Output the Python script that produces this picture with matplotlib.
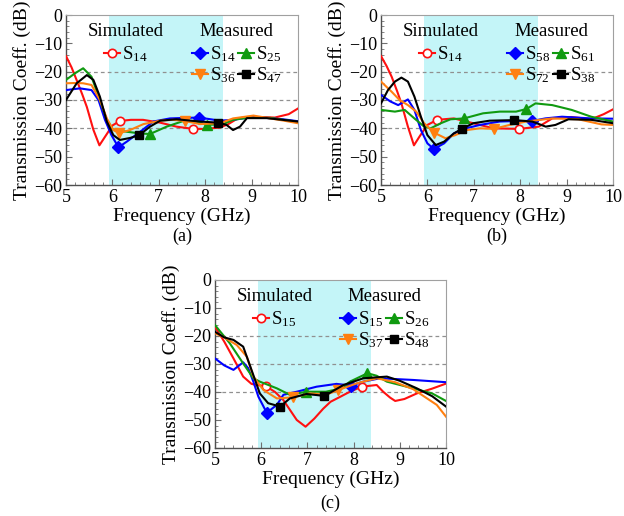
import matplotlib
matplotlib.use('Agg')
import matplotlib.pyplot as plt

plt.rcParams['font.family'] = ['Liberation Serif', 'DejaVu Serif']
plt.rcParams['mathtext.fontset'] = 'custom'
plt.rcParams['mathtext.rm'] = 'Liberation Serif'
plt.rcParams['mathtext.it'] = 'Liberation Serif:italic'
plt.rcParams['mathtext.default'] = 'rm'

# ---------------- data ----------------
band_lo, band_hi = 5.925, 8.375
grid_levels = [-20, -30, -40]
x_ticks = [5, 6, 7, 8, 9, 10]
y_ticks = [0, -10, -20, -30, -40, -50, -60]

# Panel (a)
a_sim_f = [5.0, 5.12, 5.23, 5.35, 5.45, 5.59, 5.72, 5.8, 5.9, 6.0, 6.16, 6.4, 6.66, 7.03, 7.38, 7.74, 8.0, 8.32, 8.5, 8.7, 8.9, 9.2, 9.5, 9.8, 10.0]
a_sim_db = [-14.5, -18.5, -23, -28, -32.5, -40.5, -46, -44, -41.5, -39, -37.4, -37, -37, -38, -39.4, -40.2, -40.2, -39.7, -38.5, -36.5, -36, -36, -36.2, -35, -33]
a_sim_mk = [10, 15]
a_m1_f = [5.0, 5.3, 5.55, 5.7, 5.84, 5.98, 6.13, 6.31, 6.6, 6.88, 7.24, 7.6, 7.87, 8.32, 8.6, 8.97, 9.3, 9.68, 10.0]
a_m1_db = [-26.5, -25.9, -26.5, -30, -37, -42.4, -46.7, -44.7, -41.2, -37.6, -36.5, -36.3, -36.2, -37.3, -37, -36.1, -36.3, -36.8, -37.5]
a_m1_mk = [6, 12]
a_m2_f = [5.0, 5.2, 5.37, 5.55, 5.73, 5.88, 6.02, 6.31, 6.6, 6.81, 7.17, 7.53, 7.82, 8.03, 8.39, 8.6, 8.9, 9.4, 10.0]
a_m2_db = [-22.9, -20.5, -18.8, -21.8, -30, -37, -40.6, -41.2, -41.8, -42, -39.4, -37.4, -37.6, -38.8, -38.5, -37, -36.3, -36.3, -37.8]
a_m2_mk = [9, 13]
a_m3_f = [5.0, 5.2, 5.37, 5.55, 5.73, 5.88, 6.02, 6.15, 6.38, 6.67, 7.03, 7.3, 7.56, 7.89, 8.32, 8.6, 9.04, 9.4, 9.7, 10.0]
a_m3_db = [-24.1, -24, -24.1, -24.7, -30, -36.5, -40.6, -41.7, -40.6, -38.5, -37.3, -37, -37.4, -38.5, -38.2, -36.5, -35.5, -36.5, -37.3, -38.2]
a_m3_mk = [7, 12]
a_m4_f = [5.0, 5.23, 5.45, 5.59, 5.73, 5.88, 6.02, 6.16, 6.38, 6.58, 6.81, 7.03, 7.38, 7.89, 8.28, 8.46, 8.6, 8.75, 8.9, 9.33, 10.0]
a_m4_db = [-30, -24.1, -21.2, -22.9, -28.8, -37.6, -42.4, -44.1, -43.4, -42.4, -39.4, -37.3, -36.8, -37.6, -38, -38.8, -40.6, -39.4, -36.4, -36.4, -37.6]
a_m4_mk = [9, 14]
a_labels = ['S$_{14}$', 'S$_{14}$', 'S$_{25}$', 'S$_{36}$', 'S$_{47}$']

# Panel (b)
b_sim_f = [5.0, 5.12, 5.23, 5.35, 5.44, 5.58, 5.71, 5.83, 6.0, 6.21, 6.57, 6.99, 7.42, 7.98, 8.4, 8.69, 9.1, 9.53, 9.8, 10.0]
b_sim_db = [-14.5, -18, -21.8, -27, -31.2, -39.4, -46, -42.9, -38.8, -37, -36.5, -38.2, -40, -40.2, -39.4, -36.5, -36, -36.8, -35, -33.3]
b_sim_mk = [9, 13]
b_m1_f = [5.0, 5.2, 5.37, 5.58, 5.72, 5.86, 6.0, 6.14, 6.36, 6.57, 6.78, 7.13, 7.56, 7.98, 8.26, 8.54, 8.9, 9.53, 10.0]
b_m1_db = [-28.2, -30.5, -31.8, -29.8, -33.5, -40.6, -45.3, -47.3, -45.3, -41.8, -40.2, -38.8, -37.6, -37.4, -37.4, -36.5, -35.9, -36.5, -36.6]
b_m1_mk = [7, 14]
b_m2_f = [5.0, 5.3, 5.51, 5.72, 5.93, 6.07, 6.29, 6.5, 6.79, 7.2, 7.56, 7.91, 8.13, 8.33, 8.69, 9.11, 9.53, 10.0]
b_m2_db = [-33.5, -34.1, -33.5, -36.5, -39.4, -40, -38.2, -36.8, -36.5, -34.7, -34.1, -34.1, -33.2, -31.2, -31.8, -33.5, -35.9, -37.6]
b_m2_mk = [8, 12]
b_m3_f = [5.0, 5.23, 5.4, 5.58, 5.76, 5.93, 6.14, 6.39, 6.6, 6.85, 7.13, 7.43, 7.77, 8.13, 8.69, 9.25, 9.75, 10.0]
b_m3_db = [-23.5, -27.1, -30, -31.8, -34.1, -38.2, -41.5, -43.5, -42.4, -40.6, -40, -40.2, -38.8, -37.6, -36.5, -36.8, -38.6, -38.8]
b_m3_mk = [6, 11]
b_m4_f = [5.0, 5.15, 5.3, 5.44, 5.58, 5.72, 5.86, 6.0, 6.18, 6.36, 6.57, 6.74, 6.99, 7.34, 7.87, 8.26, 8.55, 8.76, 9.04, 9.53, 10.0]
b_m4_db = [-31.2, -26.5, -23.5, -22.1, -23.5, -28.8, -35.9, -42.4, -45.9, -44.7, -41.8, -40.2, -38.2, -37.3, -37.1, -37.6, -39.4, -38.8, -36.8, -37, -38.2]
b_m4_mk = [11, 14]
b_labels = ['S$_{14}$', 'S$_{58}$', 'S$_{61}$', 'S$_{72}$', 'S$_{38}$']

# Panel (c)
c_sim_f = [5.0, 5.2, 5.4, 5.61, 5.79, 5.9, 6.1, 6.3, 6.48, 6.77, 6.96, 7.15, 7.34, 7.5, 7.7, 7.92, 8.18, 8.5, 8.64, 8.79, 8.9, 9.1, 9.37, 9.7, 10.0]
c_sim_db = [-16.7, -22, -28, -34.5, -37.1, -37.5, -37.9, -40, -42.9, -50, -52.4, -49.5, -46, -43.5, -41.8, -39.9, -38.1, -37.5, -39.9, -42, -43.2, -42.5, -40.5, -38.8, -37]
c_sim_mk = [6, 16]
c_m1_f = [5.0, 5.2, 5.4, 5.61, 5.72, 5.83, 5.94, 6.12, 6.34, 6.48, 6.77, 7.2, 7.63, 7.94, 8.21, 8.57, 9.29, 10.0]
c_m1_db = [-28, -30.5, -32.1, -29.4, -31.5, -36.3, -41.7, -47.4, -44.6, -41, -39.9, -38.1, -37.1, -37.7, -36.3, -35.1, -35.7, -36.5]
c_m1_mk = [7, 13]
c_m2_f = [5.0, 5.32, 5.61, 5.83, 5.97, 6.34, 6.62, 6.98, 7.4, 7.74, 7.92, 8.3, 8.5, 8.72, 9.29, 9.7, 10.0]
c_m2_db = [-16.1, -22.6, -29.8, -35.1, -36.3, -38.7, -41, -39.9, -39.9, -38.7, -36.3, -33.3, -34.2, -36.3, -38.7, -40.5, -43.2]
c_m2_mk = [7, 11]
c_m3_f = [5.0, 5.2, 5.47, 5.69, 5.83, 6.05, 6.34, 6.69, 7.05, 7.4, 7.67, 8.07, 8.5, 8.9, 9.29, 9.8, 10.0]
c_m3_db = [-19, -20.5, -23.2, -27.4, -34.5, -39.3, -42.3, -41.9, -40.5, -41, -39.3, -36.9, -35.1, -36.5, -39, -44.6, -48.8]
c_m3_mk = [7, 10]
c_m4_f = [5.0, 5.2, 5.4, 5.61, 5.79, 5.97, 6.15, 6.41, 6.62, 6.98, 7.37, 7.78, 8.21, 8.72, 9.0, 9.37, 9.7, 10.0]
c_m4_db = [-18.5, -20.5, -21.4, -23.8, -32.1, -40.5, -44, -45.2, -42.3, -40.7, -41.4, -37.5, -35.1, -34.5, -36, -38.7, -41.5, -45.2]
c_m4_mk = [7, 10]
c_labels = ['S$_{15}$', 'S$_{15}$', 'S$_{26}$', 'S$_{37}$', 'S$_{48}$']

# ---------------- styles ----------------
styles = [
    dict(color='#ff1010', marker='o', mfc='white', ms=6, mew=1.2),
    dict(color='#0000ff', marker='D', ms=6),
    dict(color='#109a10', marker='^', ms=7),
    dict(color='#ff7f10', marker='v', ms=7),
    dict(color='#000000', marker='s', ms=6),
]

fig = plt.figure(figsize=(6.24, 5.16), dpi=100)
W, H = 624.0, 516.0


def make_axes(l, t, r, b):
    return fig.add_axes([l / W, 1 - b / H, (r - l) / W, (b - t) / H])


def draw(ax, series, labels, cap, cap_xy):
    ax.axvspan(band_lo, band_hi, color='#c4f5f8', lw=0, zorder=0)
    for g in grid_levels:
        ax.axhline(g, color='#909090', lw=0.9, ls=(0, (3, 2.5)), zorder=1)
    lines = []
    for (f, d, mk), st in zip(series, styles):
        ln, = ax.plot(f, d, lw=1.5, markevery=mk, zorder=3, **st)
        lines.append(ln)
    ax.set_xlim(5, 10)
    ax.set_ylim(-60, 0)
    ax.set_xticks(x_ticks)
    ax.set_yticks(y_ticks)
    ax.set_xticks([5 + 0.2 * i for i in range(26)], minor=True)
    ax.set_yticks([-60 + 2 * i for i in range(31)], minor=True)
    ax.tick_params(which='both', direction='in', color='#707070', labelsize=13, top=False, right=False)
    ax.tick_params(which='major', length=4, width=0.8, pad=3)
    ax.tick_params(which='minor', length=2, width=0.6)
    for s in ['left', 'bottom']:
        ax.spines[s].set_color('#505050')
        ax.spines[s].set_linewidth(1.0)
    for s in ['top', 'right']:
        ax.spines[s].set_color('#a0a0a0')
        ax.spines[s].set_linewidth(0.8)
    ax.set_xlabel('Frequency (GHz)', fontsize=14, labelpad=1)
    ax.set_ylabel('Transmission Coeff. (dB)', fontsize=14, labelpad=2)
    fig.text(cap_xy[0] / W, 1 - cap_xy[1] / H, cap, ha='center', va='center', fontsize=13)

    fs = 13.5
    leg1 = ax.legend(handles=[lines[0]], labels=[labels[0]], title='Simulated',
                     loc='upper left', bbox_to_anchor=(0.095, 0.95), frameon=False,
                     fontsize=fs, title_fontsize=fs, handlelength=0.85, handletextpad=0.1,
                     borderpad=0, borderaxespad=0, labelspacing=0.2, numpoints=1)
    ax.add_artist(leg1)
    order = [1, 3, 2, 4]
    leg2 = ax.legend(handles=[lines[i] for i in order], labels=[labels[i] for i in order],
                     title='Measured', ncol=2, loc='upper left', bbox_to_anchor=(0.542, 0.95),
                     frameon=False, fontsize=fs, title_fontsize=fs, handlelength=0.85,
                     handletextpad=0.1, columnspacing=0.15, borderpad=0, borderaxespad=0,
                     labelspacing=0.08, numpoints=1)
    leg2._legend_box.sep = 0.2 * fs


ax_a = make_axes(66, 15, 298, 185)
draw(ax_a, [(a_sim_f, a_sim_db, a_sim_mk), (a_m1_f, a_m1_db, a_m1_mk), (a_m2_f, a_m2_db, a_m2_mk),
            (a_m3_f, a_m3_db, a_m3_mk), (a_m4_f, a_m4_db, a_m4_mk)], a_labels, '(a)', (182, 236))
ax_b = make_axes(381, 15, 613, 185)
draw(ax_b, [(b_sim_f, b_sim_db, b_sim_mk), (b_m1_f, b_m1_db, b_m1_mk), (b_m2_f, b_m2_db, b_m2_mk),
            (b_m3_f, b_m3_db, b_m3_mk), (b_m4_f, b_m4_db, b_m4_mk)], b_labels, '(b)', (497, 236))
ax_c = make_axes(215, 280, 446, 448)
draw(ax_c, [(c_sim_f, c_sim_db, c_sim_mk), (c_m1_f, c_m1_db, c_m1_mk), (c_m2_f, c_m2_db, c_m2_mk),
            (c_m3_f, c_m3_db, c_m3_mk), (c_m4_f, c_m4_db, c_m4_mk)], c_labels, '(c)', (330, 503))

fig.savefig('out.png', dpi=100)
